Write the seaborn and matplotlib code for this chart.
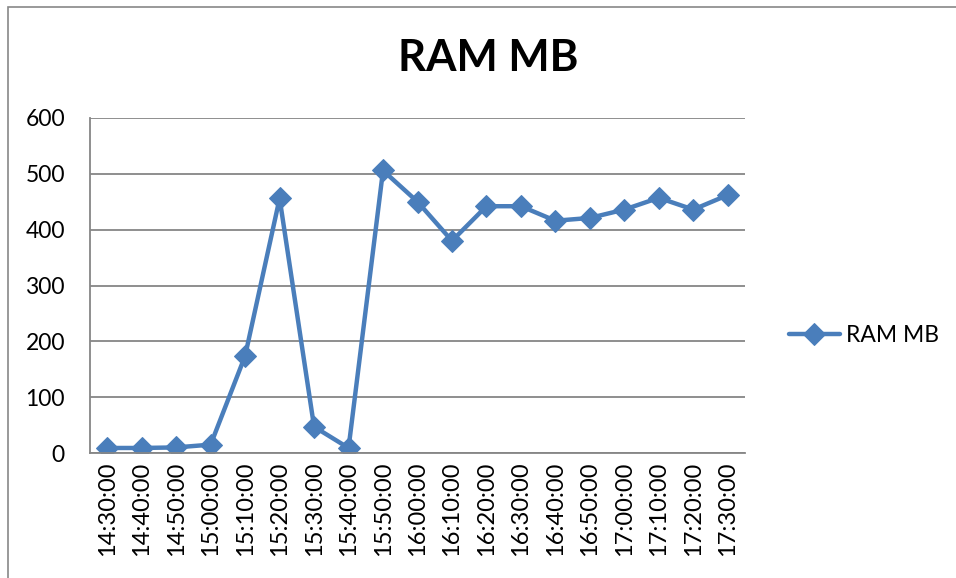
import matplotlib
matplotlib.use("Agg")
import matplotlib.pyplot as plt
from matplotlib.patches import Rectangle
import seaborn as sns
import pandas as pd
import numpy as np

times = ["14:30:00", "14:40:00", "14:50:00", "15:00:00", "15:10:00", "15:20:00",
         "15:30:00", "15:40:00", "15:50:00", "16:00:00", "16:10:00", "16:20:00",
         "16:30:00", "16:40:00", "16:50:00", "17:00:00", "17:10:00", "17:20:00",
         "17:30:00"]
ram_mb = [9, 9, 10, 15, 174, 456, 47, 9, 506, 450, 380, 442,
          442, 416, 421, 436, 457, 436, 462]
y_ticks = [0, 100, 200, 300, 400, 500, 600]

sns.set_style("white")
plt.rcParams['font.family'] = ['Lato', 'DejaVu Sans']
plt.rcParams['text.color'] = 'black'
plt.rcParams['xtick.color'] = 'black'
plt.rcParams['ytick.color'] = 'black'

blue = "#4A7EBB"
grid_gray = "#868686"

df = pd.DataFrame({"time": times, "RAM MB": ram_mb})

fig = plt.figure(figsize=(9.56, 5.78), dpi=100)
ax = fig.add_axes([90 / 956, 1 - 453 / 578, (745 - 90) / 956, (453 - 118) / 578])

sns.lineplot(data=df, x="time", y="RAM MB", ax=ax, color=blue, linewidth=3.2,
             marker="D", markersize=11, markeredgecolor=blue, label="RAM MB",
             sort=False)

ax.set_xlim(-0.5, len(times) - 0.5)
ax.set_ylim(0, 600)
ax.set_yticks(y_ticks)
ax.set_yticklabels([str(v) for v in y_ticks], fontsize=16.5)
ax.set_xticks(np.arange(len(times)))
ax.set_xticklabels(times, rotation=90, fontsize=17)
ax.set_xticks(np.arange(len(times) + 1) - 0.5, minor=True)
ax.tick_params(axis="x", which="major", length=0, pad=6)
ax.tick_params(axis="x", which="minor", length=6, width=1.3, color=grid_gray, direction="out")
ax.tick_params(axis="y", which="major", length=6, width=1.3, color=grid_gray,
               direction="out", pad=12)
ax.set_xlabel("")
ax.set_ylabel("")

ax.yaxis.grid(True, color=grid_gray, linewidth=1.3)
ax.set_axisbelow(True)
for side in ["top", "right"]:
    ax.spines[side].set_visible(False)
for side in ["left", "bottom"]:
    ax.spines[side].set_color(grid_gray)
    ax.spines[side].set_linewidth(1.3)

fig.text(488 / 956, 1 - 58 / 578, "RAM MB", ha="center", va="center",
         fontsize=31.5, fontweight="bold", color="black")

leg = ax.legend(loc="center left", bbox_to_anchor=(1.035, 0.35), frameon=False,
                fontsize=16.5, handlelength=2.25, handletextpad=0.25)

# outer chart border
fig.patches.append(Rectangle((8 / 956, -0.05), 1.0, 1 - 7 / 578 + 0.05,
                             transform=fig.transFigure, fill=False,
                             edgecolor="#888888", linewidth=1.2))

fig.savefig("out.png", dpi=100)
